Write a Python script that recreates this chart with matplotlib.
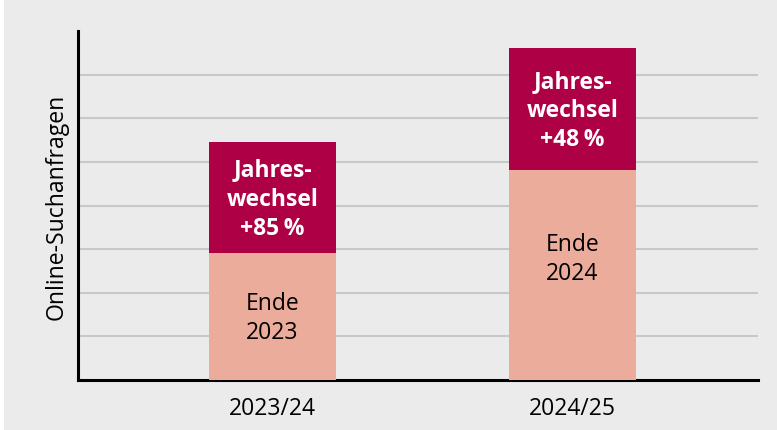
import matplotlib
matplotlib.use("Agg")
import matplotlib.pyplot as plt
from matplotlib.patches import Rectangle

# Data
categories = ["2023/24", "2024/25"]
base_values = [2.91, 4.82]          # "Ende" level
total_values = [5.46, 7.61]         # incl. Jahreswechsel
base_labels = ["Ende\n2023", "Ende\n2024"]
top_labels = ["Jahres-\nwechsel\n+85\u2009%", "Jahres-\nwechsel\n+48\u2009%"]
y_label = "Online-Suchanfragen"

# Style
BG = "#EBEBEB"
DARK = "#AD0045"
LIGHT = "#ECAC9C"
GRID = "#C8C8C8"
FONT = ["Open Sans", "DejaVu Sans"]
plt.rcParams["font.family"] = FONT

W, H = 777, 430
fig = plt.figure(figsize=(W / 100, H / 100), dpi=100, facecolor=BG)
fig.patches.append(Rectangle((0, 0), 4 / W, 1, transform=fig.transFigure,
                             facecolor="white", edgecolor="none", zorder=-1))

left, right, top, bottom = 78, 758, 31, 380
ax = fig.add_axes([left / W, (H - bottom) / H, (right - left) / W, (bottom - top) / H])
ax.set_facecolor(BG)

x = list(range(len(categories)))
width = 0.423
tops = [t - b for t, b in zip(total_values, base_values)]
ax.bar(x, base_values, width=width, color=LIGHT, zorder=3)
ax.bar(x, tops, bottom=base_values, width=width, color=DARK, zorder=3)

ax.set_xlim(-0.648, 1.618)
ax.set_ylim(0, 8)
ax.set_yticks(range(1, 8))
ax.yaxis.grid(True, color=GRID, linewidth=1.5, zorder=0)
ax.tick_params(axis="y", length=0, labelleft=False)
ax.tick_params(axis="x", length=0, pad=12, labelsize=16.5)
ax.set_xticks(x)
ax.set_xticklabels(categories)

for s in ["top", "right"]:
    ax.spines[s].set_visible(False)
for s in ["left", "bottom"]:
    ax.spines[s].set_linewidth(2.2)
    ax.spines[s].set_color("black")

ax.set_ylabel(y_label, fontsize=16.6)
ax.yaxis.set_label_coords(-0.014, 0.497)

# Labels
light_label_offsets = [0.05, -0.35]
for i in x:
    mid_top = (base_values[i] + total_values[i]) / 2
    ax.text(i, mid_top - 0.05, top_labels[i], ha="center", va="center", color="white",
            fontsize=16.5, fontweight="bold", linespacing=1.3, zorder=4)
    ax.text(i, base_values[i] / 2 - light_label_offsets[i],
            base_labels[i], ha="center", va="center", color="black",
            fontsize=16.5, linespacing=1.3, zorder=4)

fig.savefig("out.png", dpi=100, facecolor=BG)
